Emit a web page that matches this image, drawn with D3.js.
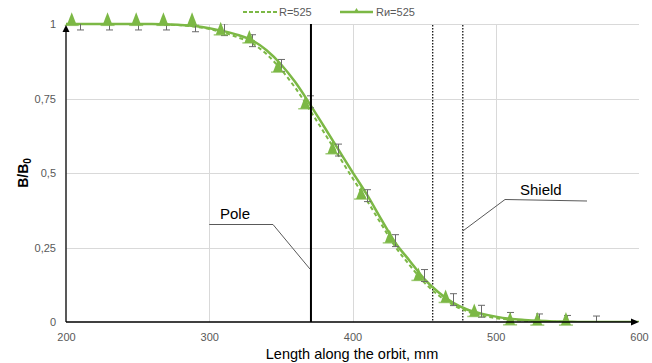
<!DOCTYPE html>
<html><head><meta charset="utf-8">
<script src="https://cdn.jsdelivr.net/npm/d3@7/dist/d3.min.js"></script>
<style>body{margin:0;background:#fff}svg{display:block;font-family:"Liberation Sans",Arial,sans-serif}</style>
</head><body>
<script>
// ---- data ----
const xTicks = [200, 300, 400, 500, 600];
const yTicks = [0, 0.25, 0.5, 0.75, 1];
const yTickLabels = ["0", "0,25", "0,5", "0,75", "1"];
const curveX = [200,210,220,230,240,250,260,270,280,290,300,310,320,330,340,350,360,370,380,390,400,410,420,430,440,450,460,470,480,490,500,510,520,530,540,550,560,570,580,590,600];
const seriesRi = [1,1,1,1,1,1,1,0.999,0.997,0.993,0.986,0.976,0.963,0.945,0.912,0.865,0.805,0.733,0.657,0.58,0.503,0.428,0.345,0.265,0.205,0.145,0.1,0.065,0.042,0.028,0.018,0.011,0.007,0.004,0.002,0.001,0,0,0,0,0];
const seriesR = [1,1,1,1,1,1,1,0.998,0.996,0.991,0.983,0.971,0.955,0.935,0.899,0.848,0.786,0.713,0.637,0.56,0.483,0.408,0.329,0.252,0.19,0.133,0.09,0.058,0.036,0.022,0.013,0.008,0.004,0.002,0.001,0,0,0,0,0,0];
const markerX = [204,229,249,268,288,308,328,348,367,386,406,426,446,465,485,510,529,549];
const markerY = [1.009,1.009,1.009,1.009,1.009,0.977,0.95,0.852,0.729,0.578,0.426,0.279,0.153,0.079,0.032,0.004,0.003,0.003];
const errX = [210,230,250,270,290,310,330,350,370,390,410,430,450,470,490,510,530,550,570];
const errY = [1,1,1,1,0.994,0.981,0.944,0.861,0.739,0.577,0.424,0.273,0.156,0.075,0.036,0.012,0.007,0.002,0];
const errDelta = 0.02;
const poleX = 371;
const shieldX = [456, 477];
const legendLabels = ["R=525", "Rи=525"];

// ---- layout ----
const W = 652, H = 363;
const L = 66, R = 639, T = 24, B = 322;
const green = "#7cb845";
const svg = d3.select("body").append("svg").attr("width", W).attr("height", H);
const x = d3.scaleLinear().domain([200, 600]).range([L, R]);
const y = d3.scaleLinear().domain([0, 1]).range([B, T]);

const defs = svg.append("defs");
defs.append("clipPath").attr("id", "clip")
  .append("rect").attr("x", L).attr("y", 0).attr("width", R - L + 10).attr("height", B);
defs.append("clipPath").attr("id", "clipE")
  .append("rect").attr("x", L).attr("y", T).attr("width", R - L + 10).attr("height", B - T);

// gridlines
const grid = svg.append("g").attr("stroke", "#d9d9d9").attr("stroke-width", 1);
grid.selectAll(".hg").data(yTicks.filter(d => d > 0)).join("line")
  .attr("x1", L).attr("x2", R).attr("y1", d => Math.round(y(d)) + 0.5).attr("y2", d => Math.round(y(d)) + 0.5);
grid.selectAll(".vg").data(xTicks.filter(d => d > 200 && d < 600)).join("line")
  .attr("y1", T).attr("y2", B).attr("x1", d => Math.round(x(d)) + 0.5).attr("x2", d => Math.round(x(d)) + 0.5);

// tick labels
const yAx = d3.axisLeft(y).tickValues(yTicks).tickSize(0).tickPadding(10).tickFormat((d, i) => yTickLabels[i]);
const gy = svg.append("g").attr("transform", `translate(${L},0)`).call(yAx);
gy.select(".domain").remove();
gy.selectAll("text").attr("fill", "#595959").attr("font-size", 11).attr("font-family", "Liberation Sans, Arial, sans-serif");
const xAx = d3.axisBottom(x).tickValues(xTicks).tickSize(0).tickPadding(11);
const gx = svg.append("g").attr("transform", `translate(0,${B})`).call(xAx);
gx.select(".domain").remove();
gx.selectAll("text").attr("fill", "#595959").attr("font-size", 11).attr("font-family", "Liberation Sans, Arial, sans-serif");

// dotted shield lines
svg.selectAll(".sh").data(shieldX).join("line")
  .attr("x1", d => x(d)).attr("x2", d => x(d)).attr("y1", T + 1).attr("y2", B)
  .attr("stroke", "#000").attr("stroke-width", 1.2).attr("stroke-dasharray", "1.5,1.5");

// curves
const pts = (arr) => curveX.map((d, i) => [d, arr[i]]);
const line = d3.line().x(d => x(d[0])).y(d => y(d[1])).curve(d3.curveMonotoneX);
const plot = svg.append("g").attr("clip-path", "url(#clip)");
plot.append("path").attr("d", line(pts(seriesR))).attr("fill", "none")
  .attr("stroke", green).attr("stroke-width", 2).attr("stroke-dasharray", "4,3");
plot.append("path").attr("d", line(pts(seriesRi))).attr("fill", "none")
  .attr("stroke", green).attr("stroke-width", 2.5);

// error bars (clipped to plot area)
const eb = svg.append("g").attr("clip-path", "url(#clipE)").attr("stroke", "#6a6a6a").attr("stroke-width", 1);
errX.forEach((xv, i) => {
  const cx = Math.round(x(xv)) + 0.5;
  const y1 = y(errY[i] + errDelta), y2 = y(errY[i] - errDelta);
  eb.append("line").attr("x1", cx).attr("x2", cx).attr("y1", y1).attr("y2", y2);
  eb.append("line").attr("x1", cx - 3.5).attr("x2", cx + 3.5).attr("y1", y1).attr("y2", y1);
  eb.append("line").attr("x1", cx - 3.5).attr("x2", cx + 3.5).attr("y1", y2).attr("y2", y2);
});

// triangle markers
const tri = svg.append("g");
markerX.forEach((xv, i) => {
  const cx = x(xv), cy = y(markerY[i]);
  tri.append("path").attr("d", `M${cx},${cy - 9}L${cx + 5},${cy + 4}L${cx - 5},${cy + 4}Z`).attr("fill", green);
  tri.append("line").attr("x1", cx - 7).attr("x2", cx + 7).attr("y1", cy + 4).attr("y2", cy + 4)
    .attr("stroke", green).attr("stroke-width", 1.5).attr("opacity", 0.7);
});

// pole line
svg.append("line").attr("x1", x(poleX)).attr("x2", x(poleX)).attr("y1", T).attr("y2", B)
  .attr("stroke", "#000").attr("stroke-width", 2);

// axes with arrows
svg.append("line").attr("x1", L).attr("x2", L).attr("y1", B).attr("y2", T + 4).attr("stroke", "#222").attr("stroke-width", 1.5);
svg.append("path").attr("d", `M${L},${T + 1}L${L + 3.5},${T + 8}L${L - 3.5},${T + 8}Z`).attr("fill", "#000");
svg.append("line").attr("x1", L).attr("x2", R - 4).attr("y1", B).attr("y2", B).attr("stroke", "#000").attr("stroke-width", 1.5);
svg.append("path").attr("d", `M${R},${B}L${R - 8},${B - 3.5}L${R - 8},${B + 3.5}Z`).attr("fill", "#000");

// annotations
const ann = svg.append("g").attr("fill", "none").attr("stroke", "#595959").attr("stroke-width", 1);
ann.append("polyline").attr("points", `${x(300)},224.5 273,224.5 ${x(poleX) - 1},269`);
ann.append("polyline").attr("points", `587,201 505,199.5 ${x(shieldX[1])},231`);
svg.append("text").attr("x", 220).attr("y", 219).attr("font-size", 15).attr("fill", "#000").text("Pole");
svg.append("text").attr("x", 520).attr("y", 195).attr("font-size", 15).attr("fill", "#000").text("Shield");

// axis titles
svg.append("text").attr("x", 352).attr("y", 359).attr("text-anchor", "middle").attr("font-size", 14.5).attr("fill", "#000")
  .text("Length along the orbit, mm");
const yt = svg.append("text").attr("transform", "translate(28,173) rotate(-90)").attr("text-anchor", "middle")
  .attr("font-size", 14).attr("font-weight", "bold").attr("fill", "#000");
yt.append("tspan").text("B/B");
yt.append("tspan").attr("font-size", 10).attr("dy", 3).text("0");

// legend
const lg = svg.append("g");
lg.append("line").attr("x1", 243).attr("x2", 277).attr("y1", 12).attr("y2", 12)
  .attr("stroke", green).attr("stroke-width", 2).attr("stroke-dasharray", "4,2");
lg.append("text").attr("x", 279).attr("y", 16).attr("font-size", 11).attr("fill", "#595959").text(legendLabels[0]);
lg.append("line").attr("x1", 340).attr("x2", 373).attr("y1", 12).attr("y2", 12).attr("stroke", green).attr("stroke-width", 2.5);
lg.append("path").attr("d", "M356.5,8L359.5,13L353.5,13Z").attr("fill", green);
lg.append("text").attr("x", 376).attr("y", 16).attr("font-size", 11).attr("fill", "#595959").text(legendLabels[1]);
</script>
</body></html>
